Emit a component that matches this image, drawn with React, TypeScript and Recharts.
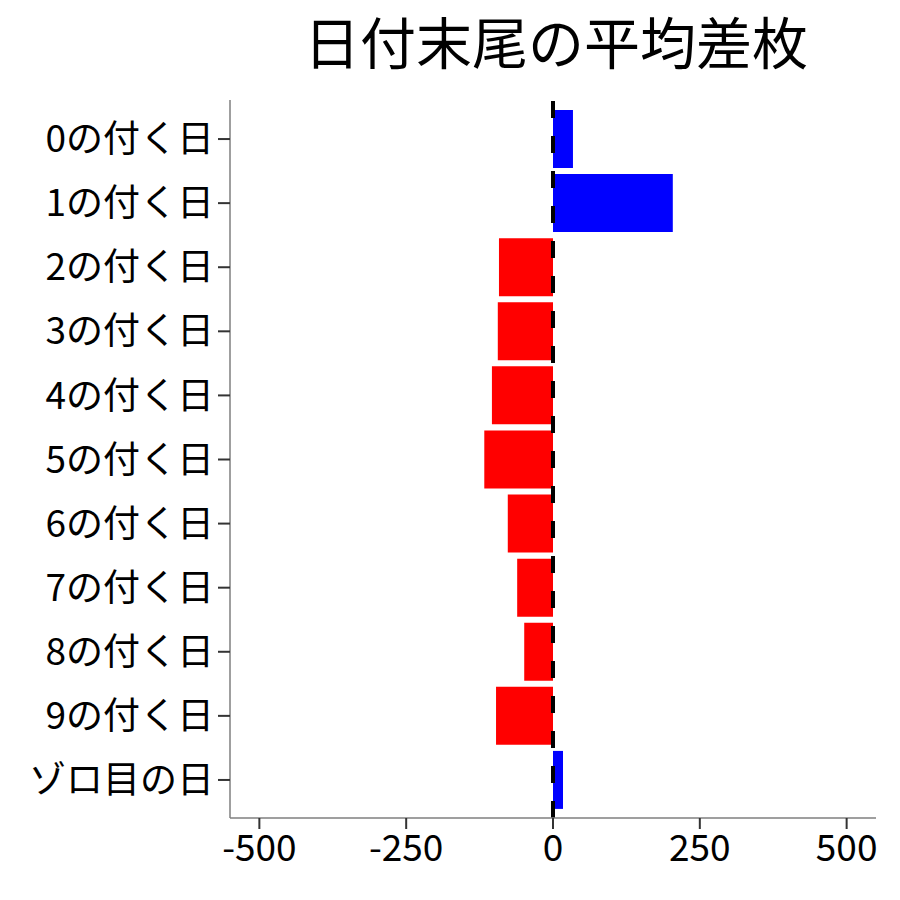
import React from 'react';
import { BarChart, Bar, XAxis, YAxis, Cell, ReferenceLine } from 'recharts';

// 日付末尾ごとの平均差枚
const categories = [
  '0の付く日',
  '1の付く日',
  '2の付く日',
  '3の付く日',
  '4の付く日',
  '5の付く日',
  '6の付く日',
  '7の付く日',
  '8の付く日',
  '9の付く日',
  'ゾロ目の日',
];
const averageDiff = [34, 204, -92, -94, -104, -117, -77, -61, -49, -97, 17];
const xTicks = [-500, -250, 0, 250, 500];

const FONT = '"Noto Sans CJK JP", "Noto Sans", sans-serif';

const App: React.FC = () => {
  const data = categories.map((label, i) => ({
    label,
    value: averageDiff[i],
  }));

  return (
    <div style={{ position: 'absolute', left: 0, top: 0, width: 900, height: 900, background: '#fff' }}>
      <svg
        width={900}
        height={100}
        style={{ position: 'absolute', left: 0, top: 0 }}
      >
        <text x={556} y={64} textAnchor="middle" fontSize={56} fontFamily={FONT} fill="#000">
          日付末尾の平均差枚
        </text>
      </svg>
      <BarChart
        width={900}
        height={900}
        data={data}
        layout="vertical"
        margin={{ top: 100, right: 24, bottom: 0, left: 0 }}
      >
        <XAxis
          type="number"
          domain={[-550, 550]}
          ticks={xTicks}
          allowDataOverflow
          height={82}
          stroke="#7f7f7f"
          strokeWidth={1.5}
          tickSize={11}
          tickMargin={6}
          tickLine={{ stroke: '#333', strokeWidth: 2 }}
          tick={{ fill: '#000', fontSize: 37, fontFamily: FONT }}
        />
        <YAxis
          type="category"
          dataKey="label"
          width={230}
          padding={{ top: 7, bottom: 6 }}
          stroke="#7f7f7f"
          strokeWidth={1.5}
          tickSize={12}
          tickMargin={4}
          tickLine={{ stroke: '#333', strokeWidth: 2 }}
          tick={{ fill: '#000', fontSize: 37, fontFamily: FONT }}
          interval={0}
        />
        <Bar dataKey="value" barSize={58} isAnimationActive={false}>
          {data.map((d, i) => (
            <Cell key={i} fill={d.value >= 0 ? '#0000ff' : '#ff0000'} />
          ))}
        </Bar>
        <ReferenceLine x={0} stroke="#000" strokeWidth={4} strokeDasharray="17 18" />
      </BarChart>
    </div>
  );
};

export default App;
